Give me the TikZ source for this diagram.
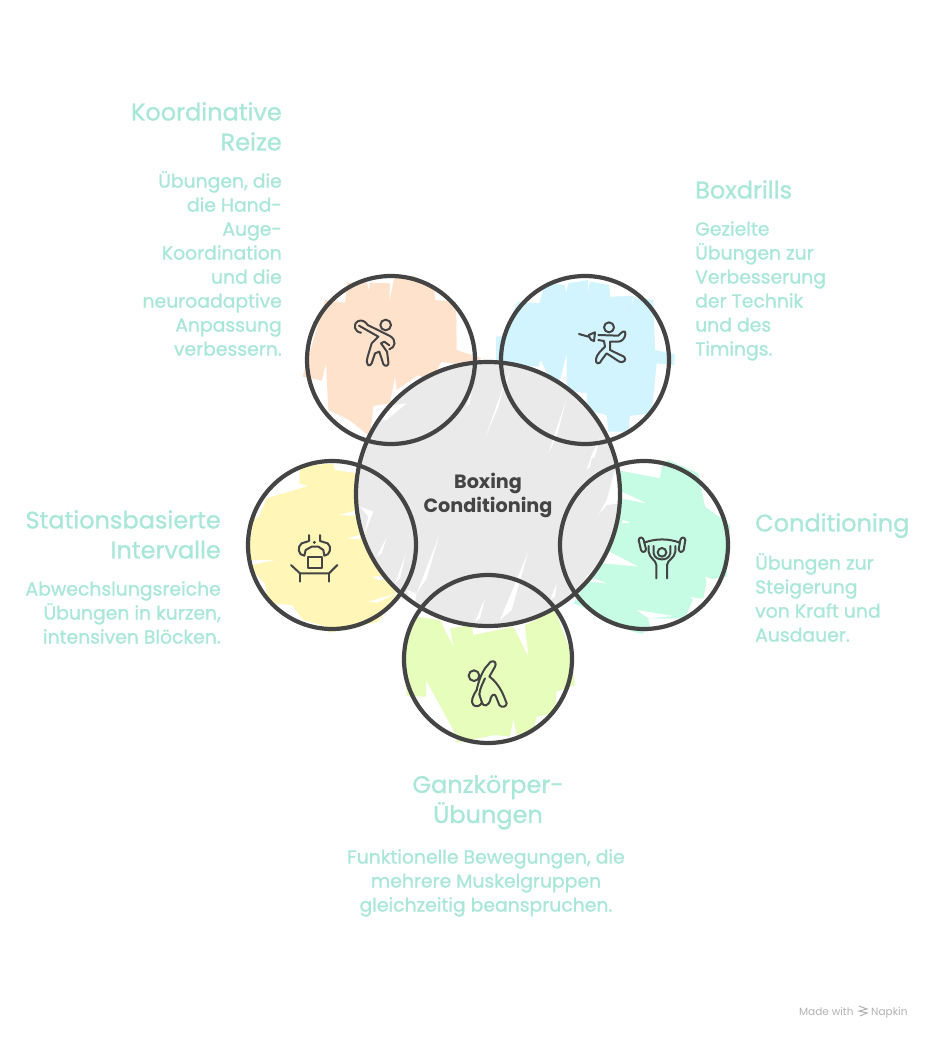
\documentclass[tikz,border=0pt]{standalone}
\usepackage{fontspec}
\setmainfont{Poppins}
\newfontfamily\handfont[FakeBold=0.9]{Poppins}
\definecolor{ink}{HTML}{444444}
\definecolor{mintt}{HTML}{A9E7D8}
\definecolor{cOr}{HTML}{FFE2CB}
\definecolor{cBl}{HTML}{D2F4FF}
\definecolor{cYe}{HTML}{FFF6B8}
\definecolor{cMi}{HTML}{C5FCE3}
\definecolor{cLi}{HTML}{E6FDBB}
\definecolor{cGr}{HTML}{EAEAEA}
\tikzset{
 ttl/.style={inner sep=0pt,text=mintt,font=\handfont\fontsize{24}{30}\selectfont},
 bod/.style={inner sep=0pt,text=mintt,font=\handfont\fontsize{18.8}{24}\selectfont},
 foot/.style={inner sep=0pt,text=black!30,anchor=base west,font=\fontsize{10.5}{12}\selectfont},
 ring/.style={circle,draw=ink,line width=4.2pt,minimum size=#1,inner sep=0pt},
 ico/.style={draw=ink,line width=2pt,line cap=round,line join=round},
 zone/.style={shift={#1},x=0.33333pt,y=-0.33333pt},
}
\begin{document}
\begin{tikzpicture}[x=1pt,y=-1pt]
\useasboundingbox (0,0) rectangle (933,1039);
\fill[white] (0,0) rectangle (933,1039);
% washes from the top crop
\begin{scope}[zone={(290,260)}]
\fill[cOr] (38,350)--(105,120)--(165,128)--(172,68)--(232,68)--(236,95)--(240,68)--(300,70)--(298,125)--(312,55)--(370,48)--(432,80)--(435,120)--(498,125)--(500,270)--(575,295)--(545,320)--(455,305)--(420,365)--(385,345)--(320,390)--(315,350)--(300,430)--(250,438)--(240,530)--(178,480)--(115,450)--(108,310)--(95,362)--cycle;
\fill[cBl] (618,230)--(640,228)--(682,125)--(748,130)--(765,68)--(825,75)--(828,100)--(835,70)--(895,60)--(893,100)--(900,65)--(958,75)--(960,110)--(1030,108)--(1020,160)--(1032,112)--(1090,120)--(1095,270)--(1155,283)--(1152,315)--(1100,310)--(1085,460)--(1020,468)--(1015,515)--(955,515)--(950,465)--(890,450)--(890,400)--(830,390)--(830,280)--(800,400)--(752,300)--(745,320)--(640,310)--(618,310)--cycle;
\end{scope}
% washes from the lower crop
\begin{scope}[zone={(240,450)}]
\fill[cYe] (178,100)--(180,50)--(280,40)--(285,60)--(350,70)--(365,190)--(410,310)--(455,380)--(470,430)--(415,515)--(265,548)--(260,530)--(190,510)--(155,465)--(85,460)--(75,400)--(25,350)--(25,215)--(58,200)--(80,145)--(205,108)--cycle;
\fill[white] (30,330)--(105,330)--(35,345)--cycle (295,195)--(345,182)--(345,197)--cycle (320,265)--(360,255)--(360,268)--cycle (395,380)--(450,378)--(420,392)--cycle (385,455)--(470,430)--(412,458)--cycle;
\fill[cMi] (1130,60)--(1260,85)--(1265,50)--(1285,30)--(1375,70)--(1395,170)--(1470,225)--(1460,380)--(1400,390)--(1390,445)--(1360,445)--(1335,505)--(1225,505)--(1230,535)--(1205,552)--(1180,545)--(1050,480)--(1000,460)--(1090,320)--cycle;
\fill[white] (1145,125)--(1220,160)--(1140,145)--cycle (1108,305)--(1195,350)--(1090,340)--cycle (1060,385)--(1100,400)--(1050,395)--cycle (1190,480)--(1300,498)--(1225,505)--cycle (1395,380)--(1440,395)--(1400,392)--cycle (1350,440)--(1395,450)--(1360,450)--cycle (1150,210)--(1170,218)--(1145,220)--cycle;
\fill[cLi] (530,500)--(600,510)--(640,590)--(630,535)--(695,525)--(700,555)--(820,530)--(865,620)--(855,525)--(945,480)--(990,600)--(1005,705)--(950,725)--(945,790)--(890,800)--(880,850)--(830,855)--(820,805)--(810,860)--(765,855)--(650,878)--(640,840)--(558,690)--(558,740)--(500,738)--(490,610)--(500,550)--cycle;
\end{scope}
% central disc with its white slivers
\node[circle,fill=cGr,minimum size=260pt,inner sep=0pt] (hubfill) at (488,494) {};
\begin{scope}
\clip (488,494) circle [radius=130];
\begin{scope}[zone={(240,450)}]
\fill[white] (598,255)--(530,430)--(560,385)--cycle (440,262)--(410,320)--(425,310)--cycle (498,310)--(465,400)--(480,385)--cycle (865,305)--(780,510)--(815,480)--cycle (735,445)--(705,515)--(720,505)--cycle (950,400)--(930,450)--(945,440)--cycle (1060,0)--(1040,60)--(1050,50)--cycle (1100,150)--(1075,195)--(1100,165)--(1140,160)--(1125,60)--cycle (1090,320)--(1005,460)--(990,465)--(1040,380)--cycle (360,170)--(400,185)--(370,260)--(385,200)--cycle (500,420)--(530,430)--(520,480)--cycle;
\end{scope}
\begin{scope}[zone={(290,260)}]
\fill[white] (645,365)--(585,535)--(625,440)--cycle (830,415)--(775,580)--(800,530)--cycle (930,530)--(900,600)--(915,590)--cycle (350,430)--(290,480)--(240,480)--(260,440)--cycle (545,385)--(530,440)--(540,430)--cycle (660,330)--(640,380)--(650,370)--cycle;
\end{scope}
\end{scope}
% rings
\node[ring=168pt] (orange) at (391,360) {};
\node[ring=168pt] (blue) at (585,360) {};
\node[ring=168pt] (yellow) at (332,545) {};
\node[ring=168pt] (mint) at (644,545) {};
\node[ring=168pt] (lime) at (488,659) {};
\node[ring=264pt] (hub) at (488,494) {};
% icons
\begin{scope}[zone={(345,310)}]
\draw[ico] (122,45) circle [radius=16];
\draw[ico] (48,68) .. controls (28,66) and (22,42) .. (40,33) .. controls (52,28) and (62,36) .. (68,45) -- (135,78) .. controls (155,90) and (152,112) .. (133,118);
\draw[ico] (42,47) -- (100,80) -- (80,100) -- (68,140) .. controls (60,168) and (75,172) .. (80,160) -- (90,130) -- (103,125) -- (115,162) .. controls (120,172) and (133,168) .. (130,155) -- (126,125) -- (108,100) -- (118,95) -- (133,106);
\end{scope}
\begin{scope}[zone={(570,315)}]
\draw[ico] (117,37) circle [radius=15];
\draw[ico] (27,57) -- (55,65);
\draw[ico] (56,60) -- (75,52) -- (72,78) .. controls (66,78) and (60,74) .. (56,60);
\draw[ico] (85,60) -- (145,62) .. controls (155,50) and (168,42) .. (166,58) .. controls (165,70) and (155,80) .. (145,80) -- (120,80) -- (120,105) -- (162,125) .. controls (172,135) and (160,145) .. (148,140) -- (110,115) -- (95,135) .. controls (90,150) and (75,148) .. (78,132) .. controls (80,118) and (95,105) .. (105,95) -- (102,78) -- (85,75);
\end{scope}
\begin{scope}[zone={(285,525)}]
\draw[ico] (68,95) rectangle (110,130);
\draw[ico] (18,120) -- (45,145) -- (132,145) -- (157,120);
\draw[ico] (45,145) -- (45,170) (132,145) -- (132,170);
\fill[ink] (88,52) circle [radius=5];
\draw[ico] (72,30) -- (72,48) -- (50,55) .. controls (35,65) and (40,92) .. (58,92) -- (62,75) -- (80,65) -- (100,65) -- (115,75) -- (118,92) .. controls (135,92) and (142,65) .. (128,55) -- (105,48) -- (105,30);
\end{scope}
\begin{scope}[zone={(632,530)}]
\draw[ico] (20,30) .. controls (22,20) and (32,20) .. (35,30) -- (42,58) .. controls (40,68) and (30,68) .. (27,60) -- cycle;
\draw[ico] (145,30) .. controls (148,20) and (158,20) .. (160,30) -- (155,60) .. controls (150,68) and (142,68) .. (140,58) -- cycle;
\draw[ico] (37,38) .. controls (70,25) and (110,25) .. (143,38);
\draw[ico] (90,67) circle [radius=13];
\draw[ico] (50,48) -- (50,65) .. controls (52,85) and (72,90) .. (73,105) -- (73,145);
\draw[ico] (130,48) -- (130,65) .. controls (128,85) and (106,90) .. (105,105) -- (105,145);
\draw[ico] (65,48) -- (65,70) .. controls (68,85) and (80,88) .. (90,88) .. controls (100,88) and (112,85) .. (115,70) -- (115,48);
\end{scope}
\begin{scope}[zone={(460,655)}]
\draw[ico] (42,62) circle [radius=16];
\draw[ico] (50,105) .. controls (55,80) and (65,55) .. (75,40) -- (92,20) .. controls (105,15) and (110,25) .. (105,35) -- (88,65) .. controls (105,75) and (125,105) .. (132,125) -- (140,145) .. controls (140,155) and (125,160) .. (118,150) -- (108,125) .. controls (105,115) and (95,118) .. (92,130) .. controls (88,155) and (68,158) .. (65,140) -- (58,118);
\draw[ico] (50,105) .. controls (40,120) and (30,140) .. (40,150) .. controls (50,158) and (62,152) .. (66,142);
\draw[ico] (58,118) .. controls (60,100) and (68,85) .. (75,70);
\end{scope}
% text blocks
\node[ttl,anchor=north east,align=right] (t1) at (282,102) {Koordinative\\Reize};
\node[bod,anchor=north east,align=right] (b1) at (282,171) {Übungen, die\\die Hand-\\Auge-\\Koordination\\und die\\neuroadaptive\\Anpassung\\verbessern.};
\node[ttl,anchor=north west,align=left] (t2) at (695,180) {Boxdrills};
\node[bod,anchor=north west,align=left] (b2) at (695,221) {Gezielte\\Übungen zur\\Verbesserung\\der Technik\\und des\\Timings.};
\node[ttl,anchor=north east,align=right] (t3) at (221,510) {Stationsbasierte\\Intervalle};
\node[bod,anchor=north east,align=right] (b3) at (221,581) {Abwechslungsreiche\\Übungen in kurzen,\\intensiven Blöcken.};
\node[ttl,anchor=north west,align=left] (t4) at (755,513) {Conditioning};
\node[bod,anchor=north west,align=left] (b4) at (755,553) {Übungen zur\\Steigerung\\von Kraft und\\Ausdauer.};
\node[ttl,anchor=north,align=center] (t5) at (488,775) {Ganzkörper-\\Übungen};
\node[bod,anchor=north,align=center] (b5) at (486,849) {Funktionelle Bewegungen, die\\mehrere Muskelgruppen\\gleichzeitig beanspruchen.};
\node[inner sep=0pt,text=ink,align=center,font=\fontsize{19.2}{24}\selectfont\bfseries] (hubtext) at (488,495) {Boxing\\Conditioning};
% footer
\node[foot] (made) at (799,1015) {Made with};
\node[foot] (napkin) at (871,1015) {Napkin};
\coordinate (logo) at (863,1011);
\draw[black!30,line width=1pt] ([shift={(-4,-5)}]logo) -- ([shift={(4,-2)}]logo) -- ([shift={(-4,0)}]logo) -- ([shift={(4,2)}]logo) -- ([shift={(-3,5)}]logo);
\end{tikzpicture}
\end{document}
